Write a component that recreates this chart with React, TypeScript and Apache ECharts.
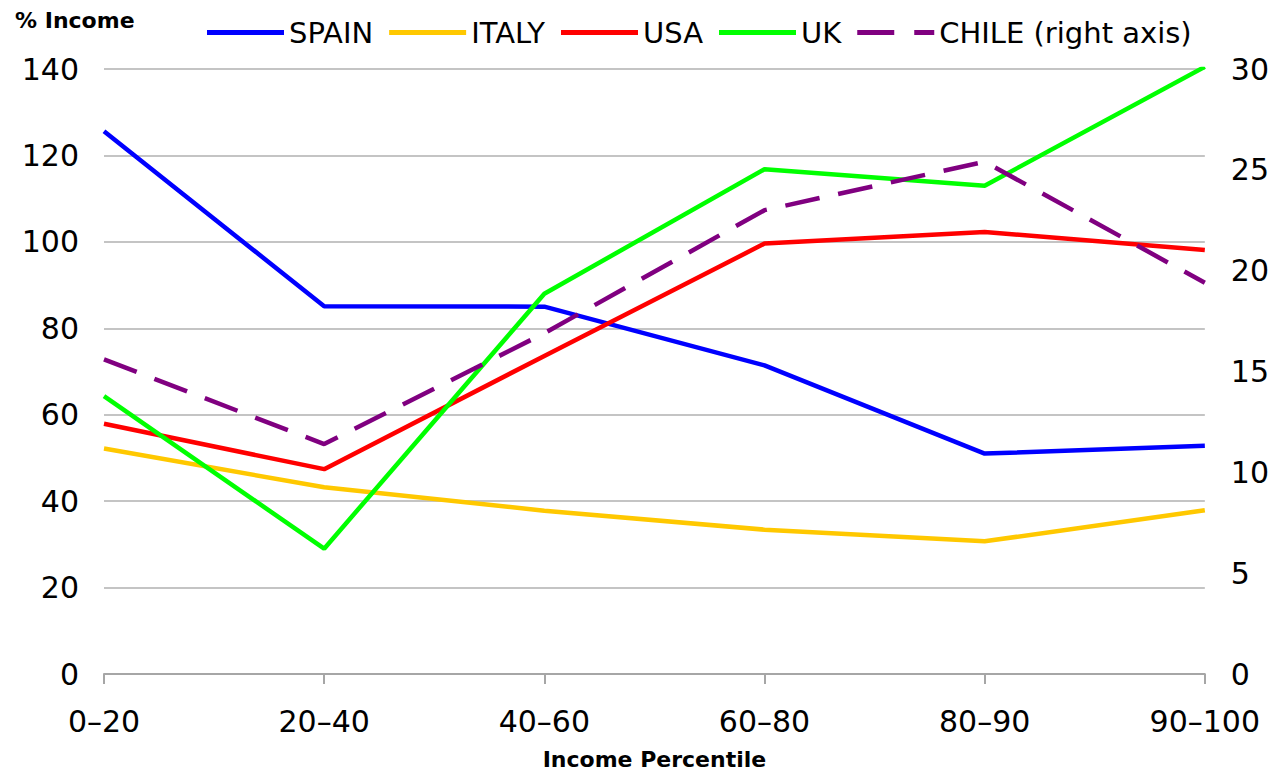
import React, { useEffect, useRef } from "react";
import * as echarts from "echarts";

const categories = ["0–20", "20–40", "40–60", "60–80", "80–90", "90–100"];
const spain = [125.6, 85.1, 85.0, 71.4, 51.0, 52.8];
const italy = [52.2, 43.2, 37.8, 33.4, 30.7, 37.9];
const usa = [57.9, 47.4, 73.6, 99.6, 102.3, 98.1];
const uk = [64.3, 29.0, 88.0, 116.8, 113.0, 140.5];
const chile = [15.6, 11.4, 16.9, 23.0, 25.4, 19.4];
const leftTicks = { min: 0, max: 140, interval: 20 };
const rightTicks = { min: 0, max: 30, interval: 5 };

const FONT = "DejaVu Sans";
const SOLID_ICON = "path://M0,0h77v5h-77z";
const DASH_ICON = "path://M0,0h37v5h-37z M57,0h20v5h-20z";

export default function App() {
  const ref = useRef<HTMLDivElement>(null);
  useEffect(() => {
    if (!ref.current) return;
    const chart = echarts.init(ref.current, null, { renderer: "svg" });
    const line = (name: string, data: number[], color: string, extra: any = {}) => ({
      name,
      type: "line",
      data,
      symbol: "none",
      showSymbol: false,
      lineStyle: { color, width: 4.5, cap: "butt", ...(extra.lineStyle || {}) },
      itemStyle: { color },
      yAxisIndex: extra.yAxisIndex || 0,
      z: extra.z || 2,
    });
    chart.setOption({
      animation: false,
      textStyle: { fontFamily: FONT },
      grid: { left: 104, right: 67, top: 69, bottom: 95, containLabel: false },
      legend: {
        left: 202,
        top: 13,
        itemWidth: 77,
        itemHeight: 5,
        itemGap: 16,
        textStyle: { fontFamily: FONT, fontSize: 29, color: "#000" },
        data: [
          { name: "SPAIN", icon: SOLID_ICON },
          { name: "ITALY", icon: SOLID_ICON },
          { name: "USA", icon: SOLID_ICON },
          { name: "UK", icon: SOLID_ICON },
          { name: "CHILE (right axis)", icon: DASH_ICON },
        ],
      },
      graphic: [
        {
          type: "text",
          left: 15,
          top: 9,
          style: { text: "% Income", font: `bold 22px ${FONT}`, fill: "#000" },
        },
      ],
      xAxis: {
        type: "category",
        data: categories,
        boundaryGap: false,
        name: "Income Percentile",
        nameLocation: "middle",
        nameGap: 74,
        nameTextStyle: { fontFamily: FONT, fontWeight: "bold", fontSize: 22, color: "#000" },
        axisLine: { lineStyle: { color: "#a6a6a6", width: 2 } },
        axisTick: { show: true, length: 10, lineStyle: { color: "#a6a6a6", width: 2 } },
        axisLabel: { fontSize: 30, color: "#000", margin: 32, fontFamily: FONT },
        splitLine: { show: false },
      },
      yAxis: [
        {
          type: "value",
          ...leftTicks,
          axisLine: { show: false },
          axisTick: { show: false },
          axisLabel: { fontSize: 30, color: "#000", margin: 25, fontFamily: FONT },
          splitLine: { show: true, lineStyle: { color: "#c4c4c4", width: 2 } },
        },
        {
          type: "value",
          ...rightTicks,
          position: "right",
          axisLine: { show: false },
          axisTick: { show: false },
          axisLabel: { fontSize: 30, color: "#000", margin: 26, fontFamily: FONT },
          splitLine: { show: false },
        },
      ],
      series: [
        line("SPAIN", spain, "#0000ff"),
        line("ITALY", italy, "#ffc800"),
        line("USA", usa, "#ff0000"),
        line("UK", uk, "#00ff00"),
        line("CHILE (right axis)", chile, "#800080", {
          yAxisIndex: 1,
          lineStyle: { type: [35, 19] },
          z: 3,
        }),
      ],
    });
    return () => chart.dispose();
  }, []);
  return <div ref={ref} style={{ width: 1272, height: 775, position: "absolute", left: 0, top: 0 }} />;
}
